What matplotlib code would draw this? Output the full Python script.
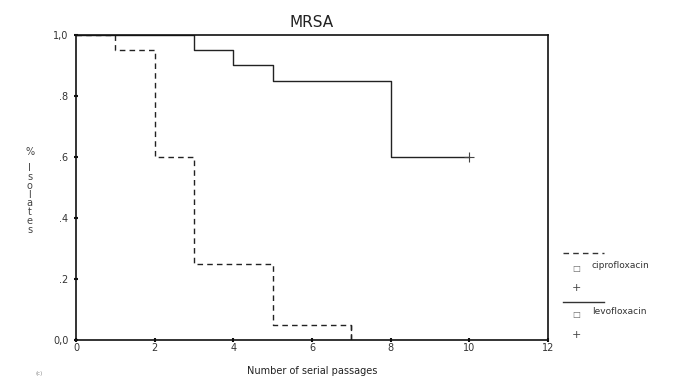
import matplotlib
matplotlib.use("Agg")
import matplotlib.pyplot as plt

# Data (Kaplan-Meier style step curves)
cipro_x = [0, 1, 2, 3, 5, 7]
cipro_y = [1.0, 0.95, 0.60, 0.25, 0.05, 0.0]
levo_x = [0, 3, 4, 5, 8, 10]
levo_y = [1.0, 0.95, 0.90, 0.85, 0.60, 0.60]
censor_x = [10]
censor_y = [0.60]

xticks = [0, 2, 4, 6, 8, 10, 12]
yticks = [0.0, 0.2, 0.4, 0.6, 0.8, 1.0]
ytick_labels = ["0,0", ".2", ".4", ".6", ".8", "1,0"]

fig = plt.figure(figsize=(6.77, 3.79), dpi=100)
ax = fig.add_axes([0.1123, 0.1029, 0.6972, 0.8048])

ax.step(cipro_x, cipro_y, where="post", color="#222222", lw=1.0, ls=(0, (4, 3)))
ax.plot([cipro_x[-1], cipro_x[-1]], [cipro_y[-2], cipro_y[-1]], color="#222222", lw=1.0, ls=(0, (4, 3)))
ax.step(levo_x, levo_y, where="post", color="#222222", lw=1.0)
ax.plot(censor_x, censor_y, marker="+", color="#444444", ms=7, mew=0.8, ls="none")

ax.set_xlim(0, 12)
ax.set_ylim(0, 1.0)
ax.set_xticks(xticks)
ax.set_yticks(yticks)
ax.set_yticklabels(ytick_labels)
for s in ax.spines.values():
    s.set_color("#111111")
    s.set_linewidth(1.2)
ax.tick_params(axis="both", labelsize=7, colors="#111111", length=3, width=1.5,
               direction="inout", labelcolor="#333333")
ax.tick_params(axis="x", pad=1)
ax.tick_params(axis="y", pad=4)

ax.set_title("MRSA", fontsize=11, color="#222222", pad=6)
ax.set_xlabel("Number of serial passages", fontsize=7, color="#222222", labelpad=9)

# vertical stacked y label
fig.text(0.044, 0.60, "%", fontsize=7, color="#444444", ha="center", va="center")
fig.text(0.044, 0.475, "\n".join("Isolates"), fontsize=7, color="#444444",
         ha="center", va="center", linespacing=0.85)

# legend outside right
def fx(px):
    return px / 677
def fy(py):
    return 1 - py / 379

fig.lines.append(plt.Line2D([fx(563), fx(604)], [fy(253), fy(253)], transform=fig.transFigure,
                            color="#333333", lw=1.0, ls=(0, (4, 3))))
fig.text(fx(576), fy(268), "□", fontsize=6, color="#666666", ha="center", va="center")
fig.text(fx(592), fy(266), "ciprofloxacin", fontsize=6.5, color="#333333", ha="left", va="center")
fig.text(fx(576), fy(288), "+", fontsize=8, color="#444444", ha="center", va="center")
fig.lines.append(plt.Line2D([fx(563), fx(604)], [fy(302), fy(302)], transform=fig.transFigure,
                            color="#333333", lw=1.0))
fig.text(fx(576), fy(314), "□", fontsize=6, color="#666666", ha="center", va="center")
fig.text(fx(592), fy(311), "levofloxacin", fontsize=6.5, color="#333333", ha="left", va="center")
fig.text(fx(576), fy(335), "+", fontsize=8, color="#444444", ha="center", va="center")

fig.text(fx(35), fy(373), "(c)", fontsize=4, color="#888888", ha="left", va="center")

fig.savefig("out.png", dpi=100, facecolor="white")
